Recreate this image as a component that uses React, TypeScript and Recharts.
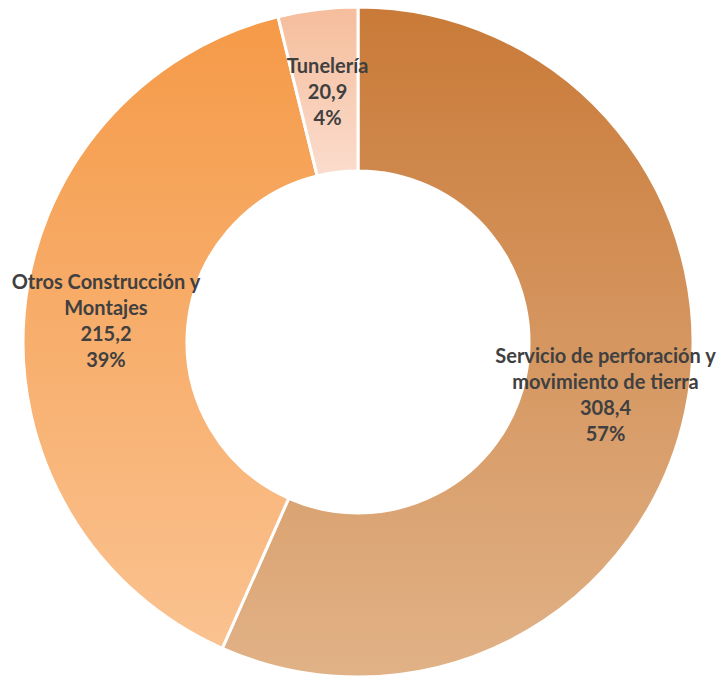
import React from 'react';
import { PieChart, Pie, Cell } from 'recharts';

const categories = ['Servicio de perforación y movimiento de tierra', 'Otros Construcción y Montajes', 'Tunelería'];
const values = [308.4, 215.2, 20.9];
const percentLabels = ['57%', '39%', '4%'];
const labelLines = [
  ['Servicio de perforación y', 'movimiento de tierra'],
  ['Otros Construcción y', 'Montajes'],
  ['Tunelería'],
];
const gradientTop = ['#C97A38', '#F59A48', '#F5BD9B'];
const gradientBottom = ['#E1B287', '#FAC290', '#FBDCCD'];

const data = categories.map((name, i) => ({ name, value: values[i], idx: i }));

const RADIAN = Math.PI / 180;
const fmt = (v: number) => v.toFixed(1).replace('.', ',');

const renderLabel = (props: any) => {
  const { cx, cy, midAngle, innerRadius, outerRadius, index, value } = props;
  const r = (innerRadius + outerRadius) / 2;
  const x = cx + r * Math.cos(-midAngle * RADIAN);
  const y = cy + r * Math.sin(-midAngle * RADIAN);
  const lines = [...labelLines[index], fmt(value), percentLabels[index]];
  const lh = 26;
  const startY = y - ((lines.length - 1) * lh) / 2;
  return (
    <text
      x={x}
      y={startY}
      textAnchor="middle"
      dominantBaseline="central"
      fill="#404040"
      fontFamily="Lato, 'Open Sans', sans-serif"
      fontWeight="bold"
      fontSize={20}
    >
      {lines.map((l, i) => (
        <tspan key={i} x={x} y={startY + i * lh}>
          {l}
        </tspan>
      ))}
    </text>
  );
};

export default function App() {
  return (
    <div style={{ position: 'absolute', left: 0, top: 0, width: 719, height: 677, background: '#fff' }}>
      <PieChart width={719} height={677} margin={{ top: 0, right: 0, bottom: 0, left: 0 }}>
        <defs>
          {gradientTop.map((c, i) => (
            <linearGradient key={i} id={`g${i}`} x1="0" y1="0" x2="0" y2="1">
              <stop offset="0%" stopColor={c} />
              <stop offset="100%" stopColor={gradientBottom[i]} />
            </linearGradient>
          ))}
        </defs>
        <Pie
          data={data}
          dataKey="value"
          nameKey="name"
          cx={358}
          cy={342}
          innerRadius={171}
          outerRadius={335}
          startAngle={90}
          endAngle={-270}
          stroke="#ffffff"
          strokeWidth={3}
          label={renderLabel}
          labelLine={false}
          isAnimationActive={false}
        >
          {data.map((d, i) => (
            <Cell key={i} fill={`url(#g${i})`} />
          ))}
        </Pie>
      </PieChart>
    </div>
  );
}
